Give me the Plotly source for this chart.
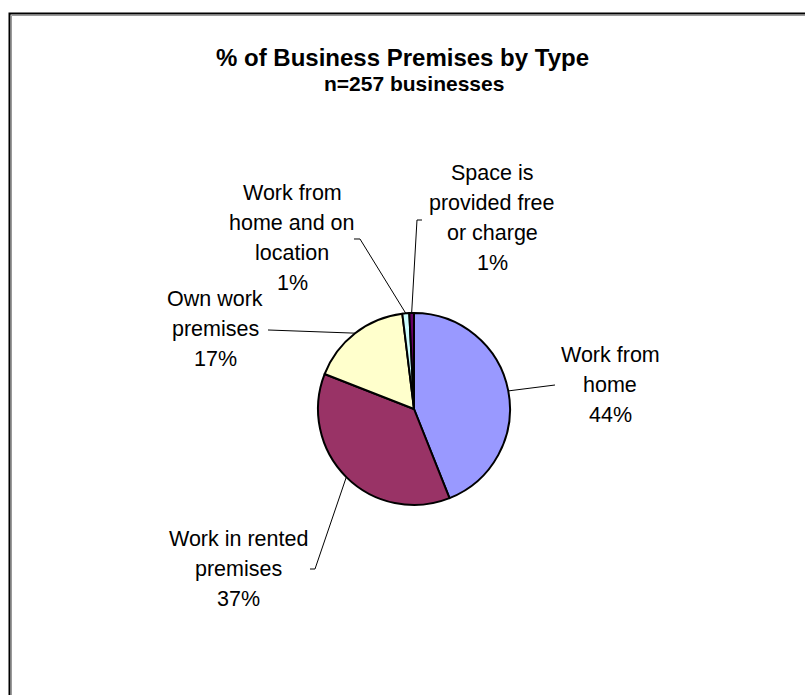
import math
import plotly.graph_objects as go

W, H = 805, 695

# --- data -------------------------------------------------------------
categories = [
    "Work from home",
    "Work in rented premises",
    "Own work premises",
    "Work from home and on location",
    "Space is provided free or charge",
]
label_lines = [
    ["Work from", "home"],
    ["Work in rented", "premises"],
    ["Own work", "premises"],
    ["Work from", "home and on", "location"],
    ["Space is", "provided free", "or charge"],
]
businesses = [113, 95, 44, 3, 2]
title_text = "% of Business Premises by Type"
subtitle_text = "n=257 businesses"

# --- styling / layout -------------------------------------------------
slice_colors = ["#9999FF", "#993366", "#FFFFCC", "#CCFFFF", "#660066"]
FONT = "Liberation Sans, Arial, sans-serif"
LINE_GAP = 30  # px between label text lines

# pie centre and radius in pixels
CX, CY, R = 414, 409, 96

# label block centres (px) and leader elbow points (px)
label_pos = [(610, 385), (238, 569), (215, 329), (292, 238), (492, 218)]
leader_pts = [
    [(555, 385)],
    [(315, 569), (310, 569)],
    [(268, 330)],
    [(360, 239), (354, 239)],
    [(417, 220), (422, 220)],
]


def px(x):
    return x / W


def py(y):
    return 1 - y / H


total = sum(businesses)
pcts = [round(100 * v / total) for v in businesses]

fig = go.Figure(
    go.Pie(
        labels=categories,
        values=businesses,
        sort=False,
        direction="clockwise",
        rotation=0,
        textinfo="none",
        hoverinfo="label+percent",
        marker=dict(colors=slice_colors, line=dict(color="black", width=2)),
        domain=dict(x=[px(CX - R), px(CX + R)], y=[py(CY + R), py(CY - R)]),
        showlegend=False,
    )
)

shapes = []
annotations = []

# leader lines start at the middle of each slice's rim
cum = 0
for i, v in enumerate(businesses):
    mid = (cum + v / 2) / total
    cum += v
    theta = 2 * math.pi * mid
    sx = CX + R * math.sin(theta)
    sy = CY - R * math.cos(theta)
    pts = [(sx, sy)] + leader_pts[i]
    path = "M " + " L ".join(f"{px(x):.5f},{py(y):.5f}" for x, y in pts)
    shapes.append(
        dict(type="path", xref="paper", yref="paper", path=path,
             line=dict(color="black", width=1))
    )
    lines = label_lines[i] + [f"{pcts[i]}%"]
    lx, ly = label_pos[i]
    n = len(lines)
    for k, line in enumerate(lines):
        yk = ly + (k - (n - 1) / 2) * LINE_GAP
        annotations.append(
            dict(
                x=px(lx), y=py(yk), xref="paper", yref="paper",
                text=line,
                showarrow=False, xanchor="center", yanchor="middle", align="center",
                font=dict(family=FONT, size=21.5, color="black"),
            )
        )

# title and subtitle
annotations.append(
    dict(x=px(402), y=py(58), xref="paper", yref="paper", text=f"<b>{title_text}</b>",
         showarrow=False, xanchor="center", yanchor="middle",
         font=dict(family=FONT, size=24, color="black"))
)
annotations.append(
    dict(x=px(414), y=py(83), xref="paper", yref="paper", text=f"<b>{subtitle_text}</b>",
         showarrow=False, xanchor="center", yanchor="middle",
         font=dict(family=FONT, size=21, color="black"))
)

# chart area frame with a light inner shadow
shapes.append(dict(type="rect", xref="paper", yref="paper",
                   x0=px(11.5), y0=py(15.5), x1=px(W + 20), y1=py(H + 20),
                   line=dict(color="#9a9a9a", width=1)))
shapes.append(dict(type="rect", xref="paper", yref="paper",
                   x0=px(9.5), y0=py(13.5), x1=px(W + 20), y1=py(H + 20),
                   line=dict(color="black", width=2)))

fig.update_layout(
    width=W, height=H,
    margin=dict(l=0, r=0, t=0, b=0),
    paper_bgcolor="white",
    plot_bgcolor="white",
    shapes=shapes,
    annotations=annotations,
    showlegend=False,
)

fig.write_html("out.html")
